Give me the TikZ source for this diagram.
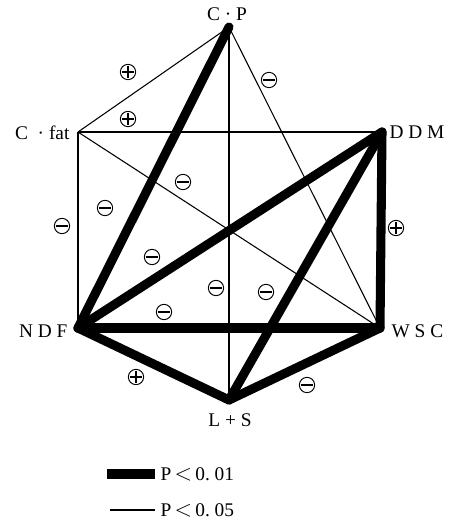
\documentclass[tikz,border=0pt]{standalone}
\usepackage{fontspec}
\setmainfont{Liberation Serif}
\usetikzlibrary{positioning}
\tikzset{
    weak/.style = {line width=0.8pt},
    strong/.style = {line width=6.8pt, line cap=round},
    signcirc/.style = {circle, draw, line width=0.7pt, minimum size=11.5pt, inner sep=0pt},
    minussign/.style = {signcirc,
        path picture={\draw[line width=0.9pt] ([xshift=1pt]path picture bounding box.west) -- ([xshift=-1pt]path picture bounding box.east);}},
    plussign/.style = {signcirc,
        path picture={\draw[line width=0.9pt] ([xshift=1pt]path picture bounding box.west) -- ([xshift=-1pt]path picture bounding box.east);
                      \draw[line width=0.9pt] ([yshift=-1pt]path picture bounding box.north) -- ([yshift=1pt]path picture bounding box.south);}},
    vlab/.style = {inner sep=1pt, font=\fontsize{14.5}{16}\selectfont}
}
\newcommand{\lt}{\,{\fontsize{18}{18}\selectfont$<$}\,}

\begin{document}
\begin{tikzpicture}[x=0.75pt, y=-0.75pt]
\useasboundingbox (0,0) rectangle (454,522);
% Vertices
\coordinate (CP) at (229,27);
\coordinate (CF) at (78,132);
\coordinate (DDM) at (382,132);
\coordinate (NDF) at (78,328);
\coordinate (WSC) at (380,328);
\coordinate (LS) at (229,400);

% Vertex labels
\node[vlab] (CPlab) at (227,14) {C · P};
\node[vlab, anchor=east] (CFlab) at (71,133) {C\hspace{0.5em}·\hspace{0.25em}fat};
\node[vlab, anchor=west] (DDMlab) at (388,132) {D D M};
\node[vlab, anchor=east] (NDFlab) at (69,331) {N D F};
\node[vlab, anchor=west] (WSClab) at (390,331) {W S C};
\node[vlab] (LSlab) at (230,420) {L + S};

% P < 0.05
\draw[weak] (CP) -- (CF);
\draw[weak] (CP) -- (LS);
\draw[weak] (CP) -- (WSC);
\draw[weak] (CF) -- (DDM);
\draw[weak] (CF) -- (NDF);
\draw[weak] (CF) -- (WSC);

% P < 0.01
\draw[strong] (CP) -- (NDF);
\draw[strong] (NDF) -- (DDM);
\draw[strong] (DDM) -- (WSC);
\draw[strong] (DDM) -- (LS);
\draw[strong] (NDF) -- (WSC);
\draw[strong] (NDF) -- (LS);
\draw[strong] (LS) -- (WSC);

% Signs
\node[plussign] (s1) at (128,72) {};
\node[plussign] (s2) at (128,119) {};
\node[minussign] (s3) at (269,80) {};
\node[minussign] (s4) at (62,226) {};
\node[minussign] (s5) at (105,208) {};
\node[minussign] (s6) at (183,182) {};
\node[minussign] (s7) at (152,257) {};
\node[minussign] (s8) at (216,288) {};
\node[minussign] (s9) at (266,292) {};
\node[minussign] (s10) at (164,312) {};
\node[plussign] (s11) at (396,228) {};
\node[plussign] (s12) at (136,377) {};
\node[minussign] (s13) at (307,385) {};

% Legend
\coordinate (k1a) at (107,474);
\coordinate (k1b) at (155,474);
\coordinate (k2a) at (110,510);
\coordinate (k2b) at (155,510);
\draw[line width=7.5pt] (k1a) -- (k1b);
\draw[weak] (k2a) -- (k2b);
\node[vlab, right=3pt of k1b] (k1lab) {P\lt0.\ 01};
\node[vlab, right=3pt of k2b] (k2lab) {P\lt0.\ 05};
\end{tikzpicture}
\end{document}
